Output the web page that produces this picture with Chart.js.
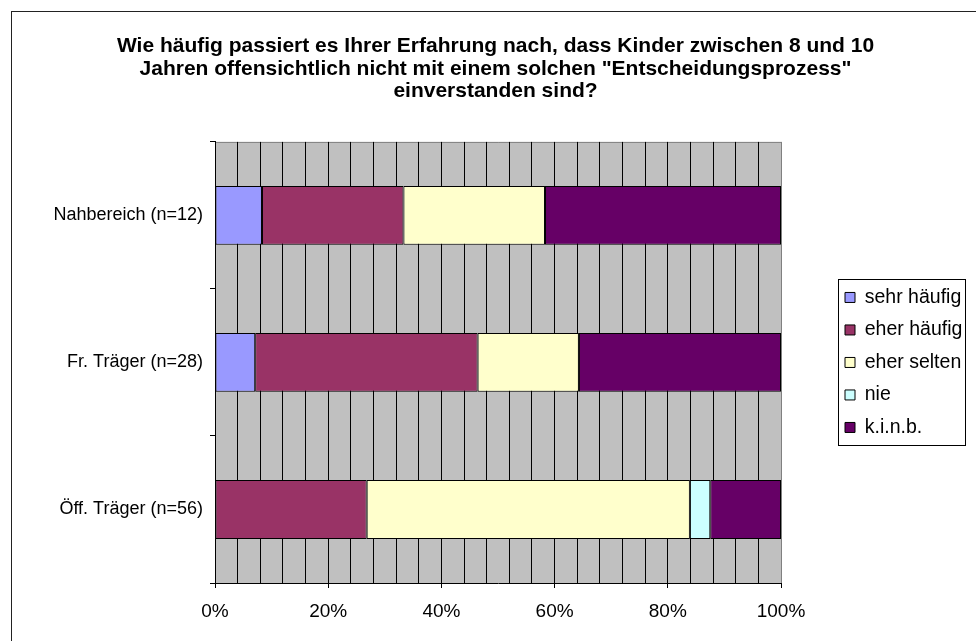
<!DOCTYPE html>
<html>
<head>
<meta charset="utf-8">
<script src="https://cdn.jsdelivr.net/npm/chart.js@4/dist/chart.umd.min.js"></script>
<style>
  body { margin: 0; background: #fff; overflow: hidden; }
  #frame { position: absolute; left: 11px; top: 11px; width: 1000px; height: 700px;
           border-top: 1px solid #222; border-left: 1px solid #222; }
  #statsChart { position: absolute; left: 0; top: 0; }
</style>
</head>
<body>
<div id="frame"></div>
<canvas id="statsChart" width="976" height="641"></canvas>
<script>
// Kategorien (Zeilen) und Anteile in Prozent
const categories = ["Nahbereich (n=12)", "Fr. Träger (n=28)", "Öff. Träger (n=56)"];
const seriesNames = ["sehr häufig", "eher häufig", "eher selten", "nie", "k.i.n.b."];
const sehrHaeufig = [8.3, 7.1, 0];
const eherHaeufig = [25.0, 39.3, 26.8];
const eherSelten = [25.0, 17.9, 57.1];
const nie = [0, 0, 3.6];
const kinb = [41.7, 35.7, 12.5];
const seriesColors = ["#9999FF", "#993366", "#FFFFCC", "#CCFFFF", "#660066"];
const titleLines = [
  "Wie häufig passiert es Ihrer Erfahrung nach, dass Kinder zwischen 8 und 10",
  "Jahren offensichtlich nicht mit einem solchen \"Entscheidungsprozess\"",
  "einverstanden sind?"
];

const FONT = "'Liberation Sans', Arial, sans-serif";

// grauer Hintergrund der Zeichenfläche + graue Rahmenlinie oben/rechts
const plotBg = {
  id: "plotBg",
  beforeDraw(chart) {
    const { ctx, chartArea: a } = chart;
    ctx.save();
    ctx.fillStyle = "#C0C0C0";
    ctx.fillRect(a.left, a.top, a.right - a.left, a.bottom - a.top);
    ctx.strokeStyle = "#808080";
    ctx.lineWidth = 1;
    ctx.beginPath();
    ctx.moveTo(a.left, a.top + 0.5);
    ctx.lineTo(a.right + 0.5, a.top + 0.5);
    ctx.lineTo(a.right + 0.5, a.bottom);
    ctx.stroke();
    ctx.restore();
  }
};

// Titel etwas nach rechts, Legende nach rechts schieben und einrahmen
const boxShift = {
  id: "boxShift",
  afterLayout(chart) {
    const t = chart.titleBlock;
    t.left += 30;
    t.right += 30;
    const lg = chart.legend;
    lg.left += 51;
    lg.right += 51;
  },
  afterDraw(chart) {
    const hb = chart.legend.legendHitBoxes;
    if (!hb || !hb.length) return;
    const first = hb[0], last = hb[hb.length - 1];
    const x1 = Math.round(first.left - 7), x2 = Math.round(first.left + 120);
    const y1 = Math.round(first.top - 9), y2 = Math.round(last.top + last.height + 8);
    const ctx = chart.ctx;
    ctx.save();
    ctx.strokeStyle = "#000";
    ctx.lineWidth = 1;
    ctx.strokeRect(x1 + 0.5, y1 + 0.5, x2 - x1, y2 - y1);
    ctx.restore();
  }
};

const allSeries = [sehrHaeufig, eherHaeufig, eherSelten, nie, kinb];

new Chart(document.getElementById("statsChart"), {
  type: "bar",
  data: {
    labels: categories,
    datasets: allSeries.map((vals, i) => ({
      label: seriesNames[i],
      data: vals,
      backgroundColor: seriesColors[i],
      borderColor: "#000",
      borderWidth: 1,
      borderSkipped: false,
      categoryPercentage: 1.0,
      barPercentage: 0.4
    }))
  },
  options: {
    indexAxis: "y",
    responsive: false,
    animation: false,
    layout: { padding: { left: 15, right: 60, top: 0, bottom: 0 } },
    scales: {
      x: {
        stacked: true,
        min: 0,
        max: 100,
        afterFit(s) { s.height = 58; },
        ticks: {
          stepSize: 4,
          autoSkip: false,
          maxRotation: 0,
          padding: 12,
          color: "#000",
          font: { family: FONT, size: 19 },
          callback: v => (v % 20 === 0 ? v + "%" : "")
        },
        grid: {
          color: c => (c.tick && c.tick.value === 100 ? "#808080" : "#000"),
          tickColor: c => (c.tick && c.tick.value % 20 === 0 ? "#000" : "rgba(0,0,0,0)"),
          tickLength: 5,
          lineWidth: 1
        },
        border: { color: "#000", width: 1 }
      },
      y: {
        stacked: true,
        afterFit(s) { s.width = 200; },
        ticks: {
          padding: 7,
          color: "#000",
          font: { family: FONT, size: 18 }
        },
        grid: {
          offset: true,
          drawOnChartArea: false,
          tickLength: 5,
          color: "#000"
        },
        border: { color: "#000", width: 1 }
      }
    },
    plugins: {
      title: {
        display: true,
        text: titleLines,
        color: "#000",
        font: { family: FONT, size: 21, weight: "bold", lineHeight: 1.07 },
        padding: { top: 35, bottom: 39.5 }
      },
      legend: {
        position: "right",
        fullSize: false,
        maxWidth: 135,
        labels: {
          boxWidth: 10,
          boxHeight: 10,
          padding: 13,
          color: "#000",
          font: { family: FONT, size: 19.5 }
        }
      },
      tooltip: { enabled: false }
    }
  },
  plugins: [plotBg, boxShift]
});
</script>
</body>
</html>
